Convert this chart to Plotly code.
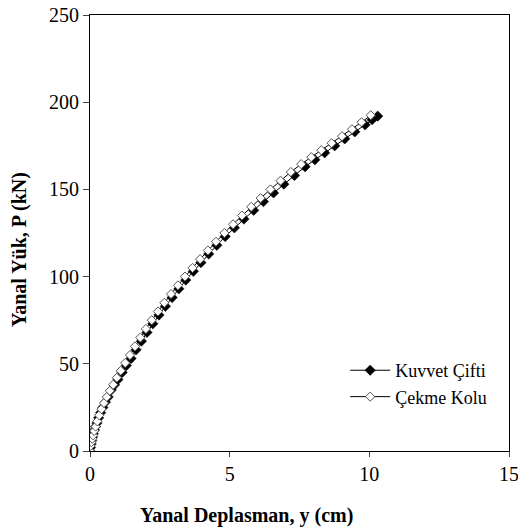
import plotly.graph_objects as go

# Kuvvet Çifti (filled diamonds)
kc_y = [0, 0.02, 0.04, 0.06, 0.09, 0.12, 0.16, 0.20, 0.25, 0.31, 0.38, 0.46, 0.55, 0.65,
        0.76, 0.88, 1.00, 1.15, 1.30, 1.47, 1.65, 1.84, 2.04, 2.25, 2.47, 2.70, 2.94, 3.18,
        3.43, 3.70, 3.97, 4.25, 4.54, 4.84, 5.17, 5.51, 5.86, 6.21, 6.57, 6.94, 7.32, 7.70,
        8.05, 8.40, 8.76, 9.12, 9.48, 9.85, 10.10, 10.30]
kc_p = [0, 2, 4, 6, 8, 10, 12, 14, 16, 19, 22, 25, 28, 31,
        35, 38, 41, 45, 49, 53, 58, 63, 68, 73, 78, 83, 88, 93,
        98, 103, 108, 113, 118, 123, 128, 133, 138, 143, 148, 153, 158, 163,
        167, 171, 175, 179, 183, 187, 190, 192]

# Çekme Kolu (open diamonds)
ck_y = [0, 0.02, 0.05, 0.08, 0.11, 0.15, 0.20, 0.26, 0.33, 0.41, 0.50, 0.60, 0.71, 0.83,
        0.96, 1.10, 1.26, 1.43, 1.61, 1.80, 2.00, 2.21, 2.43, 2.66, 2.90, 3.15, 3.40, 3.67,
        3.94, 4.22, 4.51, 4.81, 5.12, 5.44, 5.77, 6.11, 6.46, 6.82, 7.19, 7.56, 7.92, 8.28,
        8.65, 9.02, 9.38, 9.72, 10.05]
ck_p = [0, 3, 5, 7, 9, 11.5, 14, 17, 20.5, 24, 27.5, 31, 34.5, 38,
        42, 46, 50.5, 55, 60, 65, 70, 75, 80, 85, 90, 95, 100, 105,
        110, 115, 120, 125, 130, 135, 140, 145, 150, 155, 160, 164.5, 168.5, 172.5,
        176.5, 180.5, 184.5, 188.5, 192.5]

x_ticks = [0, 5, 10, 15]
y_ticks = [0, 50, 100, 150, 200, 250]

FONT = "Liberation Serif"

fig = go.Figure()
fig.add_trace(go.Scatter(
    x=kc_y, y=kc_p, mode="lines+markers", name="Kuvvet Çifti",
    line=dict(color="black", width=1),
    marker=dict(symbol="diamond", size=8, color="black", line=dict(color="black", width=0.5)),
))
fig.add_trace(go.Scatter(
    x=ck_y, y=ck_p, mode="lines+markers", name="Çekme Kolu",
    line=dict(color="black", width=1),
    marker=dict(symbol="diamond", size=7, color="white", line=dict(color="#555555", width=1)),
))

fig.update_layout(
    width=518, height=529,
    margin=dict(l=90, r=9, t=15, b=78, autoexpand=False),
    paper_bgcolor="white", plot_bgcolor="white",
    font=dict(family=FONT, color="black", size=20),
    showlegend=True,
    legend=dict(x=0.609, y=0.227, xanchor="left", yanchor="top",
                bgcolor="rgba(0,0,0,0)", font=dict(family=FONT, size=18, color="black"),
                tracegroupgap=0, itemwidth=40),
    xaxis=dict(range=[0, 15], tickvals=x_ticks, ticks="outside", ticklen=5,
               showgrid=False, zeroline=False, showline=True, linecolor="black",
               linewidth=1, mirror=True, automargin=False, ticklabeloverflow="allow",
               tickfont=dict(size=20, family=FONT)),
    yaxis=dict(range=[0, 250], tickvals=y_ticks, ticks="outside", ticklen=6,
               showgrid=False, zeroline=False, showline=True, linecolor="black",
               linewidth=1, mirror=True, automargin=False, ticklabeloverflow="allow",
               tickfont=dict(size=20, family=FONT)),
    annotations=[
        dict(text="<b>Yanal Deplasman, y (cm)</b>", xref="paper", yref="paper",
             x=(246 - 90) / 419, y=-(515 - 451) / 436, xanchor="center", yanchor="middle",
             showarrow=False, font=dict(family=FONT, size=20, color="black")),
        dict(text="<b>Yanal Yük, P (kN)</b>", xref="paper", yref="paper",
             x=-(90 - 20) / 419, y=(451 - 250) / 436, xanchor="center", yanchor="middle",
             textangle=-90, showarrow=False, font=dict(family=FONT, size=20, color="black")),
    ],
)

# remove the default page margin so the 518x529 figure fills the window exactly
fig.write_html("out.html", config={"displayModeBar": False},
               post_script="document.body.style.margin='0';document.body.style.overflow='hidden';")
